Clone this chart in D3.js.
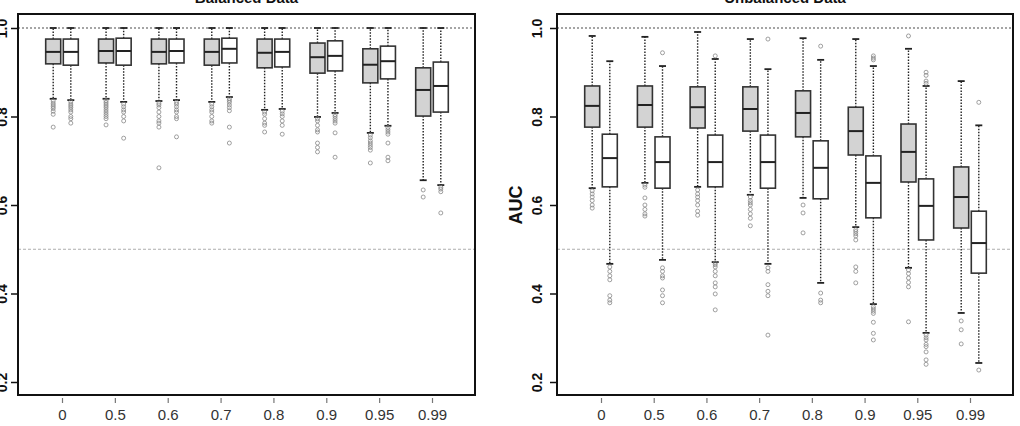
<!DOCTYPE html>
<html>
<head>
<meta charset="utf-8">
<script src="https://cdn.jsdelivr.net/npm/d3@7"></script>
<style>
  body { margin: 0; background: #fff; }
  text { font-family: "Liberation Sans", Arial, sans-serif; }
</style>
</head>
<body>
<svg id="chart" width="1020" height="426"></svg>
<script>
const categories = ['0', '0.5', '0.6', '0.7', '0.8', '0.9', '0.95', '0.99'];
const yTicks = [0.2, 0.4, 0.6, 0.8, 1.0];

// box stats: [lower whisker, q1, median, q3, upper whisker]
const balancedA = [
  [0.840, 0.919, 0.946, 0.975, 1.0],
  [0.840, 0.921, 0.948, 0.975, 1.0],
  [0.835, 0.919, 0.946, 0.975, 1.0],
  [0.833, 0.916, 0.946, 0.975, 1.0],
  [0.815, 0.910, 0.944, 0.975, 1.0],
  [0.799, 0.898, 0.934, 0.966, 1.0],
  [0.763, 0.876, 0.917, 0.953, 1.0],
  [0.656, 0.801, 0.860, 0.910, 1.0]
];
const balancedAOut = [
  [0.835, 0.830, 0.826, 0.822, 0.818, 0.812, 0.805, 0.776],
  [0.836, 0.832, 0.828, 0.824, 0.820, 0.815, 0.810, 0.805, 0.800, 0.795, 0.781],
  [0.830, 0.826, 0.820, 0.810, 0.800, 0.790, 0.785, 0.776, 0.684],
  [0.828, 0.822, 0.815, 0.810, 0.800, 0.790, 0.785],
  [0.810, 0.805, 0.795, 0.785, 0.780, 0.765],
  [0.795, 0.790, 0.780, 0.770, 0.765, 0.740, 0.730, 0.720],
  [0.758, 0.752, 0.745, 0.740, 0.735, 0.730, 0.724, 0.695],
  [0.634, 0.618]
];
const balancedB = [
  [0.837, 0.916, 0.946, 0.975, 1.0],
  [0.833, 0.916, 0.948, 0.977, 1.0],
  [0.837, 0.921, 0.948, 0.975, 1.0],
  [0.844, 0.921, 0.953, 0.977, 1.0],
  [0.817, 0.912, 0.946, 0.975, 1.0],
  [0.808, 0.903, 0.937, 0.971, 1.0],
  [0.779, 0.885, 0.925, 0.959, 1.0],
  [0.645, 0.810, 0.869, 0.923, 1.0]
];
const balancedBOut = [
  [0.833, 0.828, 0.824, 0.820, 0.815, 0.810, 0.800, 0.795, 0.785],
  [0.828, 0.822, 0.815, 0.810, 0.800, 0.790, 0.751],
  [0.832, 0.828, 0.822, 0.815, 0.810, 0.800, 0.795, 0.754],
  [0.840, 0.836, 0.832, 0.826, 0.820, 0.813, 0.776, 0.740],
  [0.812, 0.806, 0.800, 0.790, 0.780, 0.760],
  [0.804, 0.800, 0.795, 0.790, 0.785, 0.763, 0.708],
  [0.775, 0.770, 0.765, 0.760, 0.740, 0.708, 0.700],
  [0.640, 0.636, 0.630, 0.582]
];
const unbalancedA = [
  [0.638, 0.776, 0.824, 0.869, 0.982],
  [0.650, 0.776, 0.826, 0.869, 0.980],
  [0.641, 0.774, 0.821, 0.867, 0.991],
  [0.623, 0.767, 0.817, 0.867, 0.975],
  [0.616, 0.754, 0.808, 0.858, 0.977],
  [0.550, 0.713, 0.767, 0.821, 0.975],
  [0.458, 0.652, 0.720, 0.783, 0.953],
  [0.356, 0.548, 0.618, 0.686, 0.880]
];
const unbalancedAOut = [
  [0.632, 0.625, 0.618, 0.610, 0.600, 0.593],
  [0.645, 0.640, 0.616, 0.600, 0.590, 0.580, 0.575],
  [0.634, 0.625, 0.618, 0.610, 0.600, 0.586, 0.577],
  [0.618, 0.610, 0.605, 0.600, 0.590, 0.580, 0.570, 0.553],
  [0.600, 0.582, 0.537],
  [0.544, 0.540, 0.535, 0.530, 0.521, 0.460, 0.450, 0.424],
  [0.982, 0.453, 0.445, 0.435, 0.425, 0.415, 0.336],
  [0.338, 0.318, 0.286]
];
const unbalancedB = [
  [0.467, 0.641, 0.706, 0.760, 0.925],
  [0.476, 0.638, 0.697, 0.754, 0.914],
  [0.471, 0.641, 0.697, 0.758, 0.930],
  [0.467, 0.638, 0.697, 0.758, 0.907],
  [0.424, 0.614, 0.684, 0.745, 0.928],
  [0.376, 0.571, 0.650, 0.711, 0.914],
  [0.311, 0.521, 0.598, 0.659, 0.869],
  [0.243, 0.446, 0.514, 0.586, 0.780]
];
const unbalancedBOut = [
  [0.460, 0.450, 0.440, 0.431, 0.395, 0.385, 0.379],
  [0.944, 0.458, 0.450, 0.440, 0.435, 0.408, 0.395, 0.379],
  [0.937, 0.469, 0.465, 0.460, 0.450, 0.440, 0.424, 0.415, 0.399, 0.363],
  [0.975, 0.458, 0.450, 0.420, 0.405, 0.395, 0.306],
  [0.959, 0.401, 0.385, 0.379],
  [0.937, 0.932, 0.928, 0.370, 0.365, 0.360, 0.355, 0.335, 0.310, 0.295],
  [0.900, 0.893, 0.880, 0.875, 0.306, 0.300, 0.295, 0.285, 0.280, 0.268, 0.250, 0.240],
  [0.832, 0.227]
];

const svg = d3.select('#chart');

const yScale = d3.scaleLinear().domain([0.2, 1.0]).range([382, 28]);
const plotTop = 14, plotBottom = 395;
const boxW = 15, offset = 8.8;

const panels = [
  {title: 'Balanced Data', left: 18, right: 475, a: balancedA, aOut: balancedAOut,
   b: balancedB, bOut: balancedBOut, labelGap: 15, yTitle: null},
  {title: 'Unbalanced Data', left: 557, right: 1013, a: unbalancedA, aOut: unbalancedAOut,
   b: unbalancedB, bOut: unbalancedBOut, labelGap: 19, yTitle: 'AUC'}
];

const drawBox = (g, cx, s, outs, fill) => {
  const [lo, q1, med, q3, hi] = s;
  // whiskers
  g.append('line').attr('x1', cx).attr('x2', cx)
    .attr('y1', yScale(q3)).attr('y2', yScale(hi))
    .attr('stroke', '#222').attr('stroke-width', 1.4).attr('stroke-dasharray', '1.5,1.5');
  g.append('line').attr('x1', cx).attr('x2', cx)
    .attr('y1', yScale(q1)).attr('y2', yScale(lo))
    .attr('stroke', '#222').attr('stroke-width', 1.4).attr('stroke-dasharray', '1.5,1.5');
  [lo, hi].forEach(v => {
    g.append('line').attr('x1', cx - 3.5).attr('x2', cx + 3.5)
      .attr('y1', yScale(v)).attr('y2', yScale(v))
      .attr('stroke', '#222').attr('stroke-width', 1.8);
  });
  g.append('rect')
    .attr('x', cx - boxW / 2).attr('width', boxW)
    .attr('y', yScale(q3)).attr('height', yScale(q1) - yScale(q3))
    .attr('fill', fill).attr('stroke', '#333').attr('stroke-width', 1.6);
  g.append('line').attr('x1', cx - boxW / 2).attr('x2', cx + boxW / 2)
    .attr('y1', yScale(med)).attr('y2', yScale(med))
    .attr('stroke', '#222').attr('stroke-width', 2);
  g.selectAll(null).data(outs).enter().append('circle')
    .attr('cx', cx).attr('cy', d => yScale(d)).attr('r', 2)
    .attr('fill', 'none').attr('stroke', '#888').attr('stroke-width', 0.8);
};

panels.forEach(p => {
  const g = svg.append('g');
  const xScale = d3.scalePoint().domain(categories).range([p.left + 44, p.right - 43]);

  // reference lines
  g.append('line').attr('x1', p.left).attr('x2', p.right)
    .attr('y1', yScale(1.0)).attr('y2', yScale(1.0))
    .attr('stroke', '#888').attr('stroke-width', 1.4).attr('stroke-dasharray', '2,2');
  g.append('line').attr('x1', p.left).attr('x2', p.right)
    .attr('y1', yScale(0.5)).attr('y2', yScale(0.5))
    .attr('stroke', '#999').attr('stroke-width', 0.8).attr('stroke-dasharray', '3,2');

  categories.forEach((c, i) => {
    drawBox(g, xScale(c) - offset, p.a[i], p.aOut[i], '#d3d3d3');
    drawBox(g, xScale(c) + offset, p.b[i], p.bOut[i], '#fff');
  });

  // frame
  g.append('rect').attr('x', p.left).attr('y', plotTop)
    .attr('width', p.right - p.left).attr('height', plotBottom - plotTop)
    .attr('fill', 'none').attr('stroke', '#111').attr('stroke-width', 2);

  // y axis
  const yAxis = g.append('g').attr('transform', `translate(${p.left - 1},0)`)
    .call(d3.axisLeft(yScale).tickValues(yTicks).tickSize(6).tickFormat(d3.format('.1f')));
  yAxis.select('.domain').remove();
  yAxis.selectAll('line').attr('stroke', '#111').attr('stroke-width', 1.5);
  yAxis.selectAll('text')
    .attr('x', null).attr('dy', '0.35em')
    .attr('transform', `translate(${-p.labelGap},0) rotate(-90)`)
    .attr('text-anchor', 'middle')
    .attr('font-size', 14).attr('font-weight', 'bold')
    .attr('font-family', '"Liberation Sans", Arial, sans-serif')
    .attr('fill', '#111');

  // x axis
  const xAxis = g.append('g').attr('transform', `translate(0,${plotBottom + 3})`)
    .call(d3.axisBottom(xScale).tickSize(5).tickPadding(6));
  xAxis.select('.domain').remove();
  xAxis.selectAll('line').attr('stroke', '#777').attr('stroke-width', 1.2);
  xAxis.selectAll('text')
    .attr('font-size', 15)
    .attr('font-family', '"Liberation Sans", Arial, sans-serif')
    .attr('fill', '#333');

  // title (cut at the top like the source)
  g.append('text').attr('x', (p.left + p.right) / 2).attr('y', 3)
    .attr('text-anchor', 'middle').attr('font-size', 15).attr('font-weight', 'bold')
    .attr('fill', '#111').text(p.title);

  if (p.yTitle) {
    g.append('text')
      .attr('transform', `translate(${p.left - 41},${yScale(0.6)}) rotate(-90)`)
      .attr('text-anchor', 'middle').attr('dy', '0.35em')
      .attr('font-size', 18).attr('font-weight', 'bold').attr('fill', '#111').text(p.yTitle);
  }
});
</script>
</body>
</html>
